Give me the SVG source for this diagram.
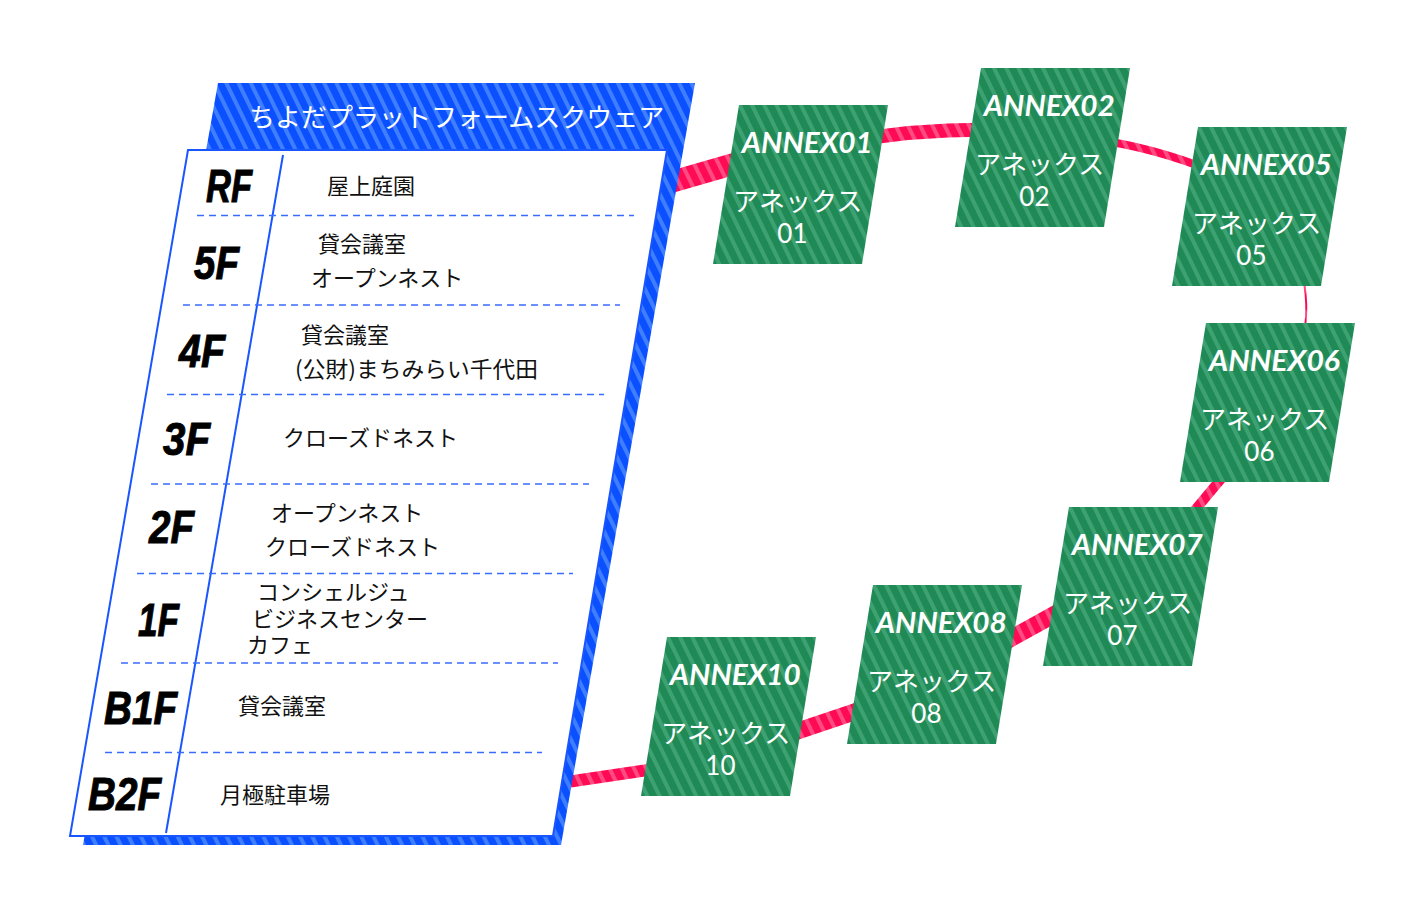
<svg xmlns="http://www.w3.org/2000/svg" width="1416" height="916" viewBox="0 0 1416 916">
<defs>
<pattern id="pb" width="11" height="11" patternUnits="userSpaceOnUse" patternTransform="rotate(-26)"><rect width="11" height="11" fill="#0a50ff"/><rect width="4" height="11" fill="#3f7eff"/></pattern>
<pattern id="pg" width="11" height="11" patternUnits="userSpaceOnUse" patternTransform="rotate(-26)"><rect width="11" height="11" fill="#1f8a56"/><rect width="4" height="11" fill="#3ea171"/></pattern>
<pattern id="pp" width="11" height="11" patternUnits="userSpaceOnUse" patternTransform="rotate(-26)"><rect width="11" height="11" fill="#ff0a54"/><rect width="4" height="11" fill="#ff4a82"/></pattern>
</defs>
<style>
.ring{fill:none;stroke:url(#pp)}
.box{fill:url(#pg)}
.an{font-family:Lato,"Liberation Sans",sans-serif;font-weight:700;font-style:italic;font-size:28.5px;fill:#fff;text-anchor:middle}
.jp{font-family:"Noto Sans CJK JP",sans-serif;font-size:26px;fill:#fff;text-anchor:middle}
.num{font-family:Lato,"Noto Sans",sans-serif;font-size:26px;fill:#fff;text-anchor:middle}
.fl{font-family:"Liberation Sans",sans-serif;font-weight:700;font-style:italic;font-size:46px;fill:#000;stroke:#000;stroke-width:1}
.rm{font-family:"Noto Sans CJK JP",sans-serif;font-size:22px;fill:#111}
.dash{stroke:#3a6cff;stroke-width:1.5;stroke-dasharray:7 5;fill:none}
</style>
<g id="connectors">
<path class="ring" d="M638,191.5 L758,157" stroke-width="22"/>
<path class="ring" d="M850,141 Q925,128 1000,130" stroke-width="14"/>
<path class="ring" d="M1090,139 Q1150,146 1215,172" stroke-width="8"/>
<path class="ring" d="M1304,282 Q1308,305 1305,328" stroke-width="2"/>
<path class="ring" d="M1236,461 L1180,528" stroke-width="10"/>
<path class="ring" d="M1075,603 L990,650" stroke-width="17"/>
<path class="ring" d="M872,706 L780,737" stroke-width="17"/>
<path class="ring" d="M668,767 L540,786" stroke-width="12"/>
</g>
<g id="building">
<polygon points="218,83 695,83 561,845 83,845" fill="url(#pb)"/>
<text x="249" y="127" font-family="'Noto Sans CJK JP',sans-serif" font-size="26" fill="#fff">ちよだプラットフォームスクウェア</text>
<polygon points="188,150 667,150 553,836 70,836" fill="#fff" stroke="#1a56ff" stroke-width="2"/>
<line x1="283" y1="155" x2="166" y2="833" stroke="#1a56ff" stroke-width="2"/>
<g id="dividers">
<line class="dash" x1="197" y1="215.5" x2="634" y2="215.5"/>
<line class="dash" x1="183" y1="305" x2="620" y2="305"/>
<line class="dash" x1="167" y1="394.5" x2="604" y2="394.5"/>
<line class="dash" x1="151" y1="484" x2="589" y2="484"/>
<line class="dash" x1="137" y1="573.5" x2="573" y2="573.5"/>
<line class="dash" x1="121" y1="663" x2="558" y2="663"/>
<line class="dash" x1="105" y1="752.5" x2="542" y2="752.5"/>
</g>
<g id="floor-RF"><text class="fl" x="206" y="202" textLength="46" lengthAdjust="spacingAndGlyphs">RF</text><text class="rm" x="327" y="194">屋上庭園</text></g>
<g id="floor-5F"><text class="fl" x="194" y="279" textLength="45" lengthAdjust="spacingAndGlyphs">5F</text><text class="rm" x="318" y="252">貸会議室</text><text class="rm" x="311" y="286">オープンネスト</text></g>
<g id="floor-4F"><text class="fl" x="179" y="367" textLength="46" lengthAdjust="spacingAndGlyphs">4F</text><text class="rm" x="301" y="343">貸会議室</text><text class="rm" x="295" y="377" textLength="243" lengthAdjust="spacingAndGlyphs">(公財)まちみらい千代田</text></g>
<g id="floor-3F"><text class="fl" x="163" y="455" textLength="47" lengthAdjust="spacingAndGlyphs">3F</text><text class="rm" x="283" y="446">クローズドネスト</text></g>
<g id="floor-2F"><text class="fl" x="149" y="543" textLength="45" lengthAdjust="spacingAndGlyphs">2F</text><text class="rm" x="271" y="521">オープンネスト</text><text class="rm" x="265" y="555">クローズドネスト</text></g>
<g id="floor-1F"><text class="fl" x="138" y="636" textLength="41" lengthAdjust="spacingAndGlyphs">1F</text><text class="rm"><tspan x="257" y="600">コンシェルジュ</tspan><tspan x="252" y="627">ビジネスセンター</tspan><tspan x="247" y="653">カフェ</tspan></text></g>
<g id="floor-B1F"><text class="fl" x="104" y="724" textLength="73" lengthAdjust="spacingAndGlyphs">B1F</text><text class="rm" x="238" y="714">貸会議室</text></g>
<g id="floor-B2F"><text class="fl" x="88" y="810" textLength="73" lengthAdjust="spacingAndGlyphs">B2F</text><text class="rm" x="220" y="803">月極駐車場</text></g>
</g>
<g id="annex01" transform="translate(713,105)"><polygon class="box" points="26,0 175,0 149,159 0,159"/><text class="an" x="94.3" y="48" textLength="131" lengthAdjust="spacingAndGlyphs">ANNEX01</text><text class="jp" x="84.6" y="106">アネックス</text><text class="num" x="79.4" y="138">01</text></g>
<g id="annex02" transform="translate(955,68)"><polygon class="box" points="26,0 175,0 149,159 0,159"/><text class="an" x="94.3" y="48" textLength="131" lengthAdjust="spacingAndGlyphs">ANNEX02</text><text class="jp" x="84.6" y="106">アネックス</text><text class="num" x="79.4" y="138">02</text></g>
<g id="annex05" transform="translate(1172,127)"><polygon class="box" points="26,0 175,0 149,159 0,159"/><text class="an" x="94.3" y="48" textLength="131" lengthAdjust="spacingAndGlyphs">ANNEX05</text><text class="jp" x="84.6" y="106">アネックス</text><text class="num" x="79.4" y="138">05</text></g>
<g id="annex06" transform="translate(1180,323)"><polygon class="box" points="26,0 175,0 149,159 0,159"/><text class="an" x="94.3" y="48" textLength="131" lengthAdjust="spacingAndGlyphs">ANNEX06</text><text class="jp" x="84.6" y="106">アネックス</text><text class="num" x="79.4" y="138">06</text></g>
<g id="annex07" transform="translate(1043,507)"><polygon class="box" points="26,0 175,0 149,159 0,159"/><text class="an" x="94.3" y="48" textLength="131" lengthAdjust="spacingAndGlyphs">ANNEX07</text><text class="jp" x="84.6" y="106">アネックス</text><text class="num" x="79.4" y="138">07</text></g>
<g id="annex08" transform="translate(847,585)"><polygon class="box" points="26,0 175,0 149,159 0,159"/><text class="an" x="94.3" y="48" textLength="131" lengthAdjust="spacingAndGlyphs">ANNEX08</text><text class="jp" x="84.6" y="106">アネックス</text><text class="num" x="79.4" y="138">08</text></g>
<g id="annex10" transform="translate(641,637)"><polygon class="box" points="26,0 175,0 149,159 0,159"/><text class="an" x="94.3" y="48" textLength="131" lengthAdjust="spacingAndGlyphs">ANNEX10</text><text class="jp" x="84.6" y="106">アネックス</text><text class="num" x="79.4" y="138">10</text></g>
</svg>
